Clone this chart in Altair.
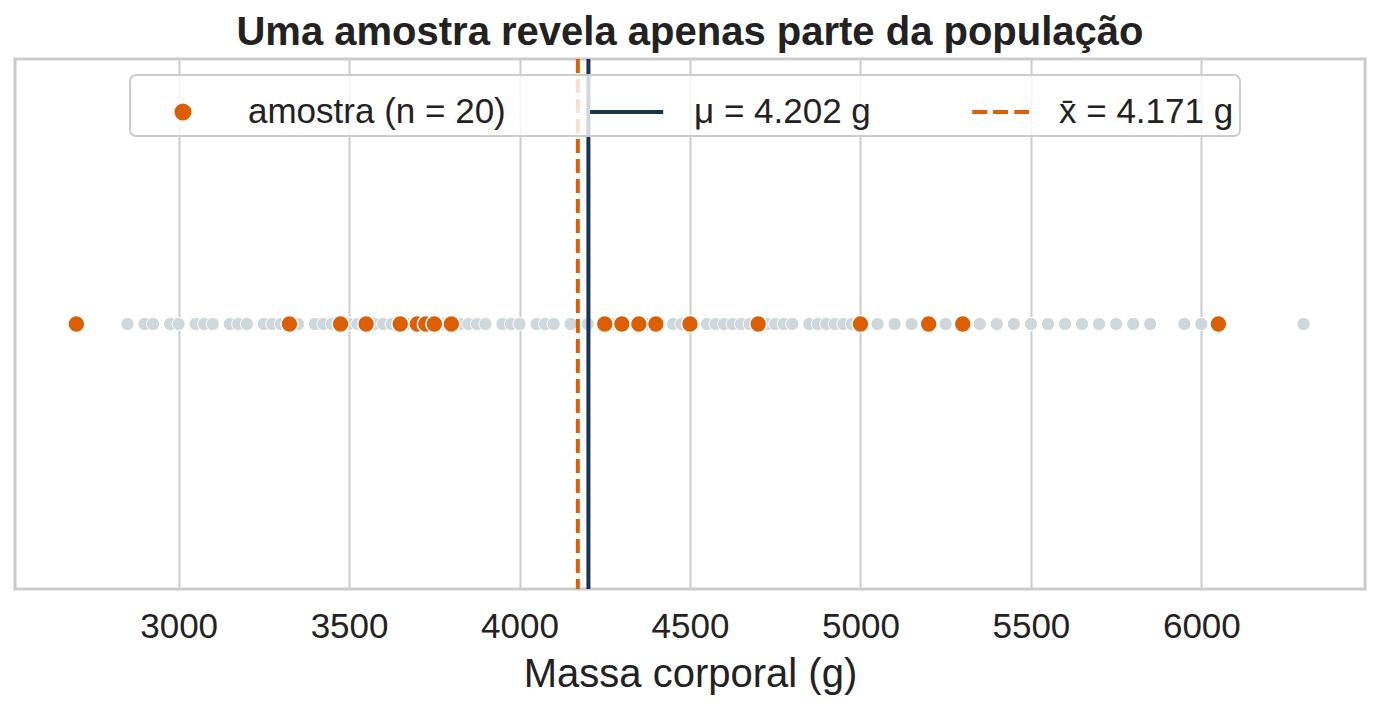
"""Strip plot: a sample of 20 penguins against the whole population (body mass)."""

import pandas as pd
import altair as alt

# distinct body-mass values of the population (g)
population_mass = [
    2700, 2850, 2900, 2925, 2975, 3000, 3050, 3075, 3100, 3150, 3175, 3200,
    3250, 3275, 3300, 3325, 3350, 3400, 3425, 3450, 3475, 3500, 3525, 3550,
    3575, 3600, 3625, 3650, 3675, 3700, 3725, 3750, 3775, 3800, 3825, 3850,
    3875, 3900, 3950, 3975, 4000, 4050, 4075, 4100, 4150, 4200, 4250, 4275,
    4300, 4350, 4375, 4400, 4450, 4475, 4500, 4550, 4575, 4600, 4625, 4650,
    4675, 4700, 4725, 4750, 4775, 4800, 4850, 4875, 4900, 4925, 4950, 4975,
    5000, 5050, 5100, 5150, 5200, 5250, 5300, 5350, 5400, 5450, 5500, 5550,
    5600, 5650, 5700, 5750, 5800, 5850, 5950, 6000, 6050, 6300,
]

# the sample (n = 20)
sample_mass = [
    2700, 3325, 3475, 3550, 3650, 3700, 3700, 3725, 3750, 3800,
    4250, 4300, 4350, 4400, 4500, 4700, 5000, 5200, 5300, 6050,
]

mu = 4202
x_bar = 4171
legend_labels = ["amostra (n = 20)", "μ = 4.202 g", "x̄ = 4.171 g"]
tick_values = [3000, 3500, 4000, 4500, 5000, 5500, 6000]

ORANGE = '#dc5f05'
NAVY = '#1b3352'
GRAY = '#ced7dc'
TEXT = '#222222'
FONT = 'Liberation Sans'

pop_df = pd.DataFrame({'mass': population_mass})
sample_df = pd.DataFrame({'mass': sample_mass})
mu_df = pd.DataFrame({'mass': [mu]})
xbar_df = pd.DataFrame({'mass': [x_bar]})
legend_df = pd.DataFrame({'serie': legend_labels, 'mass': [mu, mu, mu]})

x_scale = alt.Scale(domain=[2520, 6480], nice=False, zero=False)
x_axis = alt.Axis(
    values=tick_values, format='d', grid=True, gridColor='#cccccc', gridWidth=2,
    domain=False, ticks=False, labelFontSize=35, labelPadding=20,
    labelColor=TEXT, titleFontSize=40, titleFontWeight='normal',
    titleColor=TEXT, titlePadding=10,
)
x_enc = alt.X('mass:Q', scale=x_scale, axis=x_axis, title='Massa corporal (g)')

# Population (light gray)
population = (
    alt.Chart(pop_df)
    .mark_circle(size=175, color=GRAY, opacity=1, stroke='white', strokeWidth=1)
    .encode(x=x_enc)
)

# Mean lines
mu_line = (
    alt.Chart(mu_df)
    .mark_rule(color=NAVY, strokeWidth=4)
    .encode(x=x_enc)
)
xbar_line = (
    alt.Chart(xbar_df)
    .mark_rule(color=ORANGE, strokeWidth=4, strokeDash=[14, 6])
    .encode(x=x_enc)
)

# Sample (orange)
sample = (
    alt.Chart(sample_df)
    .mark_circle(size=285, color=ORANGE, opacity=1, stroke='white', strokeWidth=1.5)
    .encode(x=x_enc)
)

# Legend only: the layer draws nothing, its scales feed the legend
dot_path = 'M0.324,0A0.226,0.226,0,1,1,0.776,0A0.226,0.226,0,1,1,0.324,0Z'
solid_path = 'M-0.79,0H1.73'
dash_path = 'M-0.2,0H0.32M0.52,0H1.04M1.25,0H1.76'

legend = alt.Legend(
    title=None, orient='none', legendX=115, legendY=16, direction='horizontal',
    labelFont=FONT, labelFontSize=35, labelColor=TEXT, labelOffset=50,
    labelLimit=600, symbolSize=3364, symbolStrokeWidth=4,
    padding=6, columnPadding=76, fillColor='rgba(255,255,255,0.8)',
    strokeColor='#cccccc', cornerRadius=6,
)
colors = alt.Scale(domain=legend_labels, range=[ORANGE, NAVY, ORANGE])

legend_layer = (
    alt.Chart(legend_df)
    .transform_filter('false')
    .mark_point(filled=True, opacity=1, size=3364, strokeWidth=4)
    .encode(
        x=x_enc,
        fill=alt.Fill('serie:N', scale=colors, legend=legend),
        stroke=alt.Stroke('serie:N', scale=colors, legend=legend),
        shape=alt.Shape('serie:N', legend=legend,
                        scale=alt.Scale(domain=legend_labels,
                                        range=[dot_path, solid_path, dash_path])),
    )
)

chart = (
    alt.layer(population, mu_line, xbar_line, sample, legend_layer)
    .properties(
        width=1350, height=530,
        padding={'left': 7, 'top': 5, 'right': 5, 'bottom': 5},
        title=alt.Title('Uma amostra revela apenas parte da população',
                        fontSize=40, fontWeight='bold', color=TEXT,
                        anchor='middle', offset=4),
    )
    .configure(font=FONT)
    .configure_view(stroke='#cccccc', strokeWidth=3)
    .configure_legend(strokeWidth=2)
)

chart.save('out.html', embed_options={'renderer': 'svg', 'actions': False})
